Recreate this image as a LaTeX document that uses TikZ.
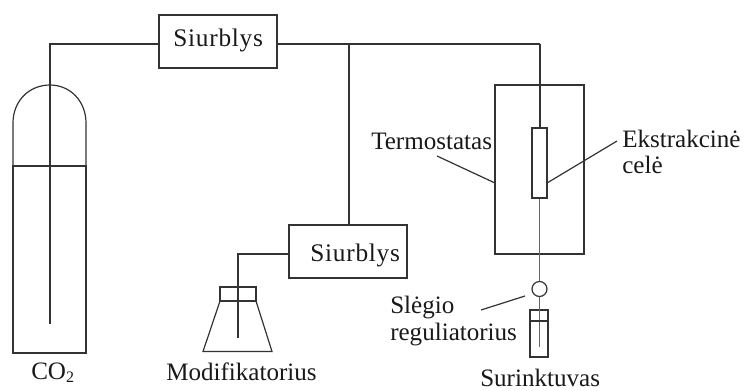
\documentclass[tikz,border=0pt]{standalone}
\usepackage{fontspec}
\setmainfont{Liberation Serif}
\begin{document}
\begin{tikzpicture}[x=0.75pt,y=-0.75pt,
  ln/.style={draw=black!80,line width=0.9pt},
  lbl/.style={inner sep=0pt,anchor=base west,font=\fontsize{18.8}{20}\selectfont,text=black!90},
  pumplbl/.style={lbl,font=\fontsize{19}{20}\selectfont\addfontfeature{LetterSpace=3}},
  pumpbox/.style={ln,rectangle,inner sep=0pt,minimum width=88.5pt,minimum height=39.75pt}]
\useasboundingbox (0,0) rectangle (746,390);
% pumps
\node[pumpbox] (pumpa) at (218,41.5) {};
\node[pumpbox] (pumpb) at (348,251.5) {};
\node[pumplbl] (pumpatext) at (173,46) {Siurblys};
\node[pumplbl] (pumpbtext) at (310,261) {Siurblys};
% junctions
\coordinate (cyltop) at (50,44);
\coordinate (cylend) at (50,324);
\coordinate (pa) at (277,44);
\coordinate (pal) at (159,44);
\coordinate (jn) at (349,44);
\coordinate (cellin) at (540,44);
\coordinate (pbt) at (349,225);
\coordinate (pbl) at (289,254);
\coordinate (fl) at (238,254);
\coordinate (flend) at (238,338);
% gas cylinder
\draw[ln] (13,166) -- (13,123) .. controls (13,101) and (29,85) .. (50,85) .. controls (70,85) and (86,101) .. (86,123) -- (86,166);
\draw[ln] (13,166) rectangle (86,353);
% CO2 line
\draw[ln] (pal) -- (cyltop) -- (cylend);
\draw[ln] (pa) -- (cellin);
\draw[ln] (jn) -- (pbt);
\draw[ln] (pbl) -- (fl) -- (flend);
% flask
\draw[ln] (220,287) rectangle (256,301);
\draw[ln] (220,301) -- (203,351.5) -- (272,351.5) -- (256,301);
% thermostat and cell
\node[ln,rectangle,inner sep=0pt,minimum width=66.75pt,minimum height=126.75pt] (thermo) at (539.5,169.5) {};
\node[ln,rectangle,inner sep=0pt,minimum width=11.25pt,minimum height=52.5pt] (cell) at (539.5,163) {};
\node[ln,circle,inner sep=0pt,minimum size=11.25pt] (reg) at (539.5,289) {};
\draw[ln] (cellin) -- (cellin |- cell.north);
\draw[ln,draw=black!60] (cell.south) -- (reg.north);
% collector
\node[ln,rectangle,inner sep=0pt,minimum width=13.5pt,minimum height=35.25pt] (coll) at (539,333.5) {};
\coordinate (collend) at (539.5,347);
\draw[ln,draw=black!60] (reg.south) -- (collend);
\draw[ln] (530,321) -- (548,321);
% labels
\node[lbl] (co) at (31,379) {CO\raisebox{-0.3ex}{\fontsize{12}{12}\selectfont 2}};
\node[lbl] (mod) at (166,380) {Modifikatorius};
\node[lbl] (term) at (371,149) {Termostatas};
\node[lbl] (ekst) at (622,147) {Ekstrakcinė};
\node[lbl] (cele) at (622,173) {celė};
\node[lbl] (sleg) at (390,313) {Slėgio};
\node[lbl] (regu) at (390,340) {reguliatorius};
\node[lbl] (suri) at (480,386) {Surinktuvas};
% leaders
\coordinate (lta) at (437,156);
\coordinate (ltb) at (495,183);
\coordinate (lea) at (617,141);
\coordinate (leb) at (547,183);
\coordinate (lsa) at (481,310);
\coordinate (lsb) at (525,296);
\draw[ln] (lta) -- (ltb);
\draw[ln] (lea) -- (leb);
\draw[ln] (lsa) -- (lsb);
\end{tikzpicture}
\end{document}
